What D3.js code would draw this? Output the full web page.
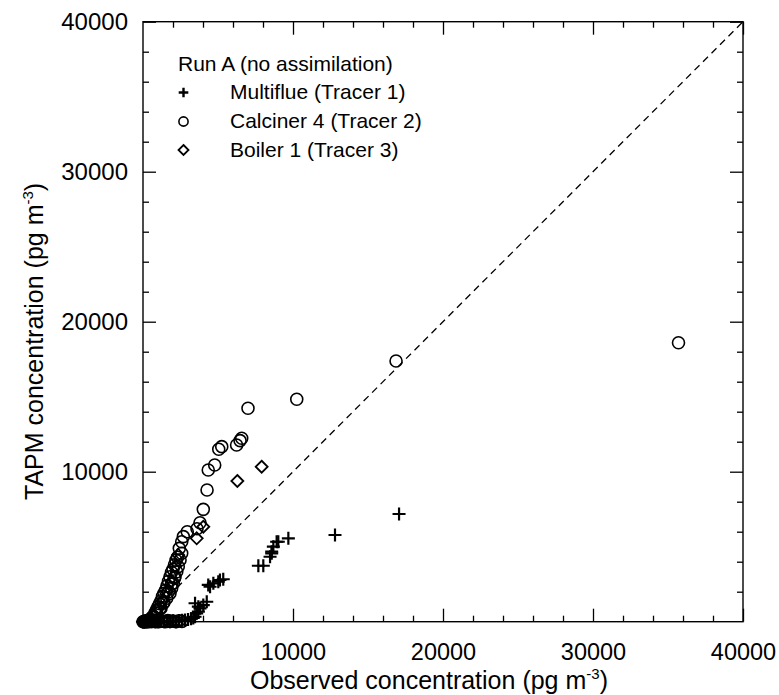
<!DOCTYPE html>
<html>
<head>
<meta charset="utf-8">
<script src="https://cdn.jsdelivr.net/npm/d3@7"></script>
<style>
  html, body { margin: 0; padding: 0; background: #fff; }
  svg { display: block; }
  text { font-family: "Liberation Sans", Arial, sans-serif; fill: #000; }
</style>
</head>
<body>
<svg id="chart" width="779" height="695"></svg>
<script>
// Axis tick values
const majorTicks = [10000, 20000, 30000, 40000];
const minorTicks = d3.range(2000, 40000, 2000).filter(v => v % 10000 !== 0);

// Multiflue (Tracer 1): observed vs TAPM (pg m-3)
const tracer1Obs = [17070, 12800, 9690, 9020, 8910, 8690, 8580, 8580, 8470, 8020, 7690,
  5350, 5130, 5020, 4690, 4470, 4350, 4250, 4020, 3800, 3690, 3580, 3470, 3690, 3470,
  3350, 3200, 3000, 2800, 2600, 2400, 2200, 2000, 1800, 1600, 1400, 1200, 1000, 800, 600, 400, 200, 0];
const tracer1Mod = [7180, 5780, 5560, 5330, 5330, 5000, 4670, 4560, 4330, 3730, 3730,
  2830, 2780, 2670, 2560, 2330, 2450, 1330, 1110, 890, 670, 560, 330, 1000, 1230,
  250, 200, 150, 120, 100, 80, 0, 60, 0, 30, 0, 50, 0, 0, 30, 0, 0, 0];

// Calciner 4 (Tracer 2)
const tracer2Obs = [35700, 16870, 10250, 7000, 6580, 6470, 6240, 5250, 5050, 4780, 4350,
  4270, 4020, 3800, 3600, 2950, 2690, 2580, 2420, 2580, 2470, 2350, 2250, 2130, 2020,
  1910, 1800, 1580, 1350, 1130, 910, 690, 470, 250, 50,
  2300, 2200, 2100, 2000, 1900, 1800, 1700, 1600, 1500, 1400, 1300, 1200, 1100, 1000, 900, 800, 600,
  1200, 1400, 1700, 1900, 2100,
  0, 100, 150, 200, 300, 350, 450, 550, 650, 750, 850, 950, 1050, 1200, 1350, 1500,
  1650, 1800, 2000, 2200, 2400, 2600];
const tracer2Mod = [18600, 17380, 14830, 14230, 12230, 12070, 11780, 11670, 11500, 10450, 10110,
  8780, 7490, 6600, 6200, 6000, 5670, 5330, 4890, 4560, 4110, 3670, 3330, 3000, 2560,
  2230, 1890, 1560, 1230, 890, 560, 330, 110, 0, 0,
  4300, 4100, 3800, 3500, 3300, 3000, 2700, 2400, 2100, 1900, 1700, 1400, 1200, 1000, 800, 600, 300,
  900, 1300, 2000, 2500, 2900,
  0, 30, 0, 60, 0, 100, 40, 0, 120, 50, 0, 80, 0, 60, 30, 0,
  80, 20, 50, 0, 60, 20];

// Boiler 1 (Tracer 3)
const tracer3Obs = [7910, 6290, 4020, 3580, 2350, 2150, 1900, 1600, 1300, 1000, 700, 400, 100, 0];
const tracer3Mod = [10330, 9380, 6330, 5560, 4450, 3700, 2700, 2000, 1400, 900, 500, 200, 0, 0];

const legendTitle = "Run A (no assimilation)";
const seriesNames = ["Multiflue (Tracer 1)", "Calciner 4 (Tracer 2)", "Boiler 1 (Tracer 3)"];

const svg = d3.select("#chart");
const plotLeft = 143, plotTop = 21.7, plotSize = 600;

const x = d3.scaleLinear().domain([0, 40000]).range([plotLeft, plotLeft + plotSize]);
const y = d3.scaleLinear().domain([0, 40000]).range([plotTop + plotSize, plotTop]);

// Marker shapes
const crossPath = r => `M${-r},0H${r}M0,${-r}V${r}`;
const diamondPath = r => `M0,${-r}L${r},0L0,${r}L${-r},0Z`;

// 1:1 reference line
svg.append("line")
  .attr("x1", x(0)).attr("y1", y(0))
  .attr("x2", x(40000)).attr("y2", y(40000))
  .attr("stroke", "#000").attr("stroke-width", 1.3)
  .attr("stroke-dasharray", "7,5");

// Frame
svg.append("rect")
  .attr("x", x(0)).attr("y", y(40000))
  .attr("width", x(40000) - x(0)).attr("height", y(0) - y(40000))
  .attr("fill", "none").attr("stroke", "#000").attr("stroke-width", 1.4);

function styleAxis(g) {
  g.select(".domain").remove();
  g.selectAll(".tick line").attr("stroke", "#000").attr("stroke-width", 1.3);
}

// Bottom axis: inward ticks with labels
svg.append("g").attr("transform", `translate(0,${y(0)})`)
  .call(d3.axisBottom(x).tickValues(majorTicks).tickSize(-13).tickPadding(22).tickFormat(d3.format("d")))
  .call(styleAxis)
  .call(g => g.selectAll("text").attr("font-size", 23.5).attr("font-family", null));
svg.append("g").attr("transform", `translate(0,${y(0)})`)
  .call(d3.axisBottom(x).tickValues(minorTicks).tickSize(-6).tickFormat(""))
  .call(styleAxis);

// Top axis
svg.append("g").attr("transform", `translate(0,${y(40000)})`)
  .call(d3.axisTop(x).tickValues(majorTicks).tickSize(-13).tickFormat(""))
  .call(styleAxis);
svg.append("g").attr("transform", `translate(0,${y(40000)})`)
  .call(d3.axisTop(x).tickValues(minorTicks).tickSize(-6).tickFormat(""))
  .call(styleAxis);

// Left axis with labels
svg.append("g").attr("transform", `translate(${x(0)},0)`)
  .call(d3.axisLeft(y).tickValues(majorTicks).tickSize(-13).tickPadding(15).tickFormat(d3.format("d")))
  .call(styleAxis)
  .call(g => g.selectAll("text").attr("font-size", 24).attr("font-family", null));
svg.append("g").attr("transform", `translate(${x(0)},0)`)
  .call(d3.axisLeft(y).tickValues(minorTicks).tickSize(-6).tickFormat(""))
  .call(styleAxis);

// Right axis
svg.append("g").attr("transform", `translate(${x(40000)},0)`)
  .call(d3.axisRight(y).tickValues(majorTicks).tickSize(-13).tickFormat(""))
  .call(styleAxis);
svg.append("g").attr("transform", `translate(${x(40000)},0)`)
  .call(d3.axisRight(y).tickValues(minorTicks).tickSize(-6).tickFormat(""))
  .call(styleAxis);

// Axis titles
const xTitle = svg.append("text")
  .attr("x", 250).attr("y", 689).attr("font-size", 25);
xTitle.append("tspan").text("Observed concentration (pg m");
xTitle.append("tspan").attr("font-size", 15).attr("dy", -10).text("-3");
xTitle.append("tspan").attr("dy", 10).text(")");

const yTitle = svg.append("text")
  .attr("transform", "translate(43,500) rotate(-90)").attr("font-size", 25);
yTitle.append("tspan").text("TAPM concentration (pg m");
yTitle.append("tspan").attr("font-size", 15).attr("dy", -10).text("-3");
yTitle.append("tspan").attr("dy", 10).text(")");

// Data points
const pts = (xs, ys) => xs.map((v, i) => [v, ys[i]]);

svg.append("g").selectAll("circle")
  .data(pts(tracer2Obs, tracer2Mod)).join("circle")
  .attr("cx", d => x(d[0])).attr("cy", d => y(d[1])).attr("r", 6)
  .attr("fill", "none").attr("stroke", "#000").attr("stroke-width", 1.6);

svg.append("g").selectAll("path")
  .data(pts(tracer1Obs, tracer1Mod)).join("path")
  .attr("transform", d => `translate(${x(d[0])},${y(d[1])})`)
  .attr("d", crossPath(6.5))
  .attr("fill", "none").attr("stroke", "#000").attr("stroke-width", 2.2);

svg.append("g").selectAll("path")
  .data(pts(tracer3Obs, tracer3Mod)).join("path")
  .attr("transform", d => `translate(${x(d[0])},${y(d[1])})`)
  .attr("d", diamondPath(6))
  .attr("fill", "none").attr("stroke", "#000").attr("stroke-width", 1.8);

// Legend
const legend = svg.append("g");
legend.append("text").attr("x", 178).attr("y", 71).attr("font-size", 21).text(legendTitle);
const legendRows = [99, 128, 156.5];
const legendMarks = [
  g => g.append("path").attr("d", crossPath(4.8)).attr("stroke-width", 2.4),
  g => g.append("circle").attr("r", 4.6).attr("stroke-width", 1.6),
  g => g.append("path").attr("d", diamondPath(5)).attr("stroke-width", 1.8)
];
seriesNames.forEach((name, i) => {
  const g = legend.append("g").attr("transform", `translate(183.5,${legendRows[i] - 6.5})`)
    .attr("fill", "none").attr("stroke", "#000");
  legendMarks[i](g);
  legend.append("text").attr("x", 230).attr("y", legendRows[i]).attr("font-size", 21).text(name);
});
</script>
</body>
</html>
